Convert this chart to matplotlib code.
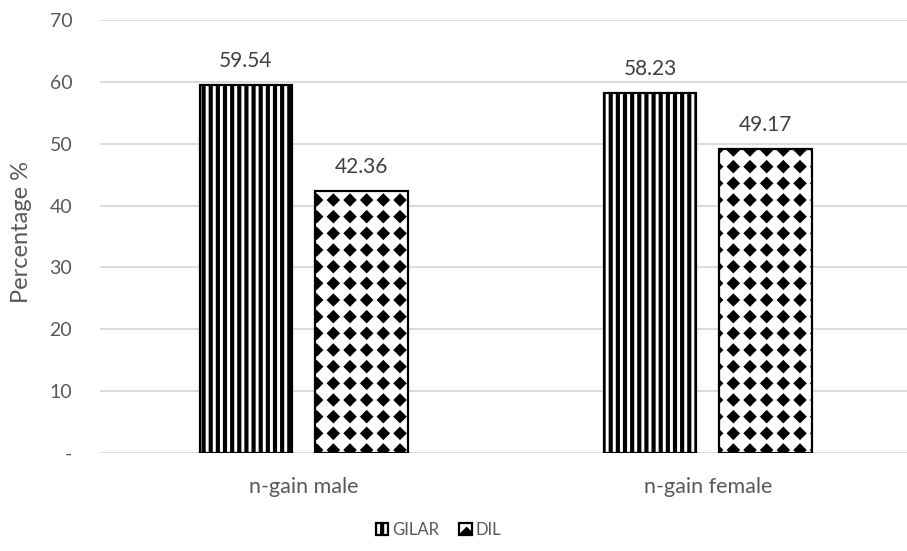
import numpy as np
import matplotlib
matplotlib.use('Agg')
import matplotlib.pyplot as plt
import matplotlib.hatch as mhatch
from matplotlib.path import Path

categories = ['n-gain male', 'n-gain female']
series_names = ['GILAR', 'DIL']
gilar = [59.54, 58.23]
dil = [42.36, 49.17]
yticks = [0, 10, 20, 30, 40, 50, 60, 70]
ytick_labels = ['-', '10', '20', '30', '40', '50', '60', '70']


class Stripes(mhatch.HatchPatternBase):
    """Vertical stripes, 7 lines per tile for each '|'."""
    def __init__(self, hatch, density):
        self.num_lines = hatch.count('|') * 7
        self.num_vertices = self.num_lines * 2

    def set_vertices_and_codes(self, vertices, codes):
        steps = (np.arange(self.num_lines) + 0.5) / self.num_lines
        vertices[0::2, 0] = steps
        vertices[0::2, 1] = 0.0
        vertices[1::2, 0] = steps
        vertices[1::2, 1] = 1.0
        codes[0::2] = Path.MOVETO
        codes[1::2] = Path.LINETO


class DiamondGrid(mhatch.HatchPatternBase):
    """Square lattice of filled diamonds for each '.'."""
    size = 0.23

    def __init__(self, hatch, density):
        self.n = hatch.count('.') * density
        self.num_vertices = (self.n + 1) ** 2 * 5 if self.n else 0

    def set_vertices_and_codes(self, vertices, codes):
        step = 1.0 / self.n
        r = self.size * step
        shape = np.array([[0, -r], [r, 0], [0, r], [-r, 0], [0, -r]])
        pos = np.arange(self.n + 1) * step
        k = 0
        for yy in pos:
            for xx in pos:
                vertices[k:k + 5] = shape + [xx, yy]
                codes[k:k + 5] = [Path.MOVETO, Path.LINETO, Path.LINETO,
                                  Path.LINETO, Path.CLOSEPOLY]
                k += 5


mhatch._hatch_types = [
    Stripes if t is mhatch.VerticalHatch else
    DiamondGrid if t is mhatch.SmallFilledCircles else t
    for t in mhatch._hatch_types
]

plt.rcParams['font.family'] = ['Lato', 'DejaVu Sans']
plt.rcParams['hatch.linewidth'] = 3.0
plt.rcParams['hatch.color'] = 'black'

fig = plt.figure(figsize=(9.07, 5.51), dpi=100)
fig.subplots_adjust(left=100 / 907, right=1.0, bottom=98 / 551, top=531 / 551)
ax = fig.add_subplot(111)

x = np.arange(len(categories))
w = 0.229
off = 0.143
ax.bar(x - off, gilar, w, color='white', edgecolor='black', hatch='||',
       linewidth=1.6, label=series_names[0], zorder=2)
ax.bar(x + off, dil, w, color='white', edgecolor='black', hatch='.',
       linewidth=1.6, label=series_names[1], zorder=2)

for xs, vals in ((x - off, gilar), (x + off, dil)):
    for xi, v in zip(xs, vals):
        ax.annotate(f'{v:.2f}', (xi, v), xytext=(0, 10), textcoords='offset points',
                    ha='center', va='bottom', fontsize=15, color='#404040')

ax.set_xlim(-0.504, 1.4926)
ax.set_ylim(0, 70)
ax.set_yticks(yticks)
ax.set_yticklabels(ytick_labels)
ax.set_xticks(x)
ax.set_xticklabels(categories)
ax.yaxis.grid(True, color='#d9d9d9', linewidth=1.3)
ax.set_axisbelow(True)
for s in ax.spines.values():
    s.set_visible(False)
ax.tick_params(axis='both', length=0, colors='#595959')
ax.tick_params(axis='y', pad=20, labelsize=14)
ax.tick_params(axis='x', pad=17, labelsize=15.5)
ax.set_ylabel('Percentage %', fontsize=17, color='#595959')
ax.yaxis.set_label_coords(-0.084, 0.51)

leg = fig.legend(loc='lower center', bbox_to_anchor=(0.4835, -0.003), ncol=2,
                 frameon=False, handlelength=0.75, handleheight=0.75,
                 handletextpad=0.25, columnspacing=1.2, fontsize=12)
for t in leg.get_texts():
    t.set_color('#595959')

fig.savefig('out.png', dpi=100)
